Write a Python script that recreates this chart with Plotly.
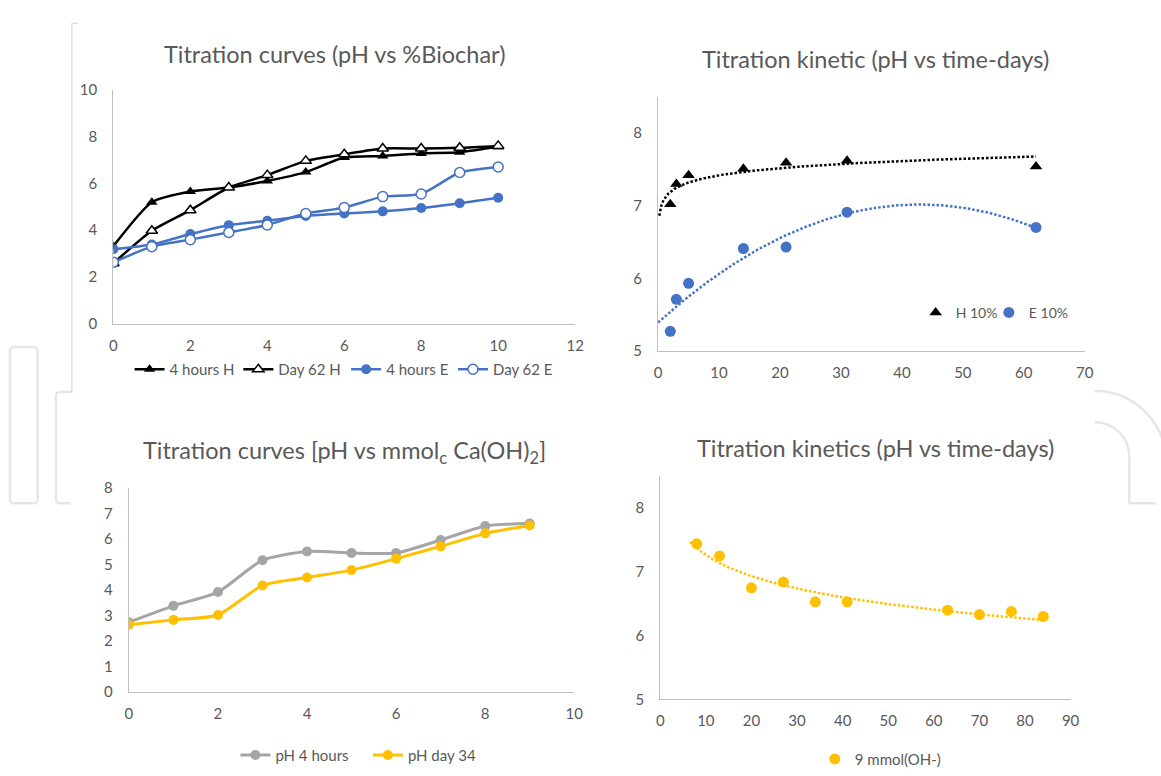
import numpy as np
import plotly.graph_objects as go

W, H = 1161, 776

# ---------------- data ----------------
# Top-left: Titration curves (pH vs %Biochar)
biochar_pct = [0, 1, 2, 3, 4, 5, 6, 7, 8, 9, 10]
ph_4h_H = [3.31, 5.19, 5.65, 5.82, 6.10, 6.48, 7.10, 7.17, 7.28, 7.33, 7.56]
ph_d62_H = [2.58, 3.97, 4.85, 5.82, 6.35, 6.96, 7.24, 7.49, 7.49, 7.52, 7.60]
ph_4h_E = [3.18, 3.38, 3.83, 4.21, 4.40, 4.60, 4.71, 4.80, 4.94, 5.15, 5.38]
ph_d62_E = [2.62, 3.29, 3.59, 3.90, 4.22, 4.71, 4.96, 5.43, 5.54, 6.46, 6.70]

# Top-right: Titration kinetic (pH vs time-days)
kin_days = [2, 3, 5, 14, 21, 31, 62]
ph_H10 = [7.02, 7.30, 7.42, 7.51, 7.59, 7.62, 7.54]
ph_E10 = [5.27, 5.71, 5.93, 6.41, 6.43, 6.91, 6.70]

# Bottom-left: Titration curves [pH vs mmolc Ca(OH)2]
mmol_c = [0, 1, 2, 3, 4, 5, 6, 7, 8, 9]
ph_4hours = [2.74, 3.38, 3.92, 5.17, 5.51, 5.45, 5.45, 5.96, 6.51, 6.61]
ph_day34 = [2.64, 2.83, 3.02, 4.18, 4.49, 4.78, 5.23, 5.71, 6.22, 6.53]

# Bottom-right: Titration kinetics (pH vs time-days)
kin2_days = [8, 13, 20, 27, 34, 41, 63, 70, 77, 84]
ph_9mmol = [7.44, 7.25, 6.75, 6.84, 6.53, 6.53, 6.40, 6.33, 6.38, 6.30]

# ---------------- style ----------------
FONT = "Lato"
TXT = "#595959"
AX = "#bfbfbf"
BLACK = "#000000"
BLUE = "#4472C4"
GREY = "#A5A5A5"
YELLOW = "#FFC000"
DOTS = "2.5px,2px"


def px_x(p):
    return p / W


def px_y(p):
    return 1 - p / H


fig = go.Figure()

# ---- Top-left traces ----
fig.add_trace(go.Scatter(x=biochar_pct, y=ph_4h_H, name="4 hours H", mode="lines+markers",
                         line=dict(color=BLACK, width=2.5, shape="spline", smoothing=0.6),
                         marker=dict(symbol="triangle-up", size=10, color=BLACK),
                         xaxis="x", yaxis="y", legend="legend"))
fig.add_trace(go.Scatter(x=biochar_pct, y=ph_d62_H, name="Day 62 H", mode="lines+markers",
                         line=dict(color=BLACK, width=2.5, shape="spline", smoothing=0.6),
                         marker=dict(symbol="triangle-up", size=10, color="white",
                                     line=dict(color=BLACK, width=1.5)),
                         xaxis="x", yaxis="y", legend="legend5"))
fig.add_trace(go.Scatter(x=biochar_pct, y=ph_4h_E, name="4 hours E", mode="lines+markers",
                         line=dict(color=BLUE, width=2.5, shape="spline", smoothing=0.6),
                         marker=dict(symbol="circle", size=10, color=BLUE),
                         xaxis="x", yaxis="y", legend="legend6"))
fig.add_trace(go.Scatter(x=biochar_pct, y=ph_d62_E, name="Day 62 E", mode="lines+markers",
                         line=dict(color=BLUE, width=2.5, shape="spline", smoothing=0.6),
                         marker=dict(symbol="circle", size=10, color="white",
                                     line=dict(color=BLUE, width=1.5)),
                         xaxis="x", yaxis="y", legend="legend7"))

# ---- Top-right traces with trendlines ----
kd = np.array(kin_days, dtype=float)
a_h, b_h = np.polyfit(np.log(kd), np.array(ph_H10), 1)
xt_h = np.linspace(0.2, kd.max(), 200)
fig.add_trace(go.Scatter(x=xt_h, y=a_h * np.log(xt_h) + b_h, mode="lines", showlegend=False,
                         line=dict(color=BLACK, width=2.5, dash=DOTS), hoverinfo="skip",
                         xaxis="x2", yaxis="y2"))
pe = np.polyfit(kd, np.array(ph_E10), 2)
xt_e = np.linspace(0, kd.max(), 200)
fig.add_trace(go.Scatter(x=xt_e, y=np.polyval(pe, xt_e), mode="lines", showlegend=False,
                         line=dict(color=BLUE, width=2.5, dash=DOTS), hoverinfo="skip",
                         xaxis="x2", yaxis="y2"))
fig.add_trace(go.Scatter(x=kin_days, y=ph_H10, name="H 10%", mode="markers",
                         marker=dict(symbol="triangle-up", size=11, color=BLACK),
                         xaxis="x2", yaxis="y2", legend="legend2"))
fig.add_trace(go.Scatter(x=kin_days, y=ph_E10, name="E 10%", mode="markers",
                         marker=dict(symbol="circle", size=11, color=BLUE),
                         xaxis="x2", yaxis="y2", legend="legend8"))

# ---- Bottom-left traces ----
fig.add_trace(go.Scatter(x=mmol_c, y=ph_4hours, name="pH 4 hours", mode="lines+markers",
                         line=dict(color=GREY, width=3, shape="spline", smoothing=0.6),
                         marker=dict(symbol="circle", size=10, color=GREY),
                         xaxis="x3", yaxis="y3", legend="legend3"))
fig.add_trace(go.Scatter(x=mmol_c, y=ph_day34, name="pH day 34", mode="lines+markers",
                         line=dict(color=YELLOW, width=3, shape="spline", smoothing=0.6),
                         marker=dict(symbol="circle", size=10, color=YELLOW),
                         xaxis="x3", yaxis="y3", legend="legend9"))

# ---- Bottom-right traces ----
k2 = np.array(kin2_days, dtype=float)
a2, b2 = np.polyfit(np.log(k2), np.array(ph_9mmol), 1)
xt2 = np.linspace(k2.min() - 1.5, k2.max(), 200)
fig.add_trace(go.Scatter(x=xt2, y=a2 * np.log(xt2) + b2, mode="lines", showlegend=False,
                         line=dict(color=YELLOW, width=2.5, dash=DOTS), hoverinfo="skip",
                         xaxis="x4", yaxis="y4"))
fig.add_trace(go.Scatter(x=kin2_days, y=ph_9mmol, name="9 mmol(OH-)", mode="markers",
                         marker=dict(symbol="circle", size=11, color=YELLOW),
                         xaxis="x4", yaxis="y4", legend="legend4"))

# ---------------- axes ----------------
tickfont = dict(family=FONT, size=15, color=TXT)


def xax(domain, rng, dtick, anchor):
    return dict(domain=domain, range=rng, dtick=dtick, tick0=0, anchor=anchor,
                showline=True, linecolor=AX, linewidth=1.3, showgrid=False, zeroline=False,
                ticks="outside", ticklen=8, tickcolor="rgba(0,0,0,0)", tickfont=tickfont,
                fixedrange=True)


def yax(domain, rng, tickvals, anchor):
    return dict(domain=domain, range=rng, tickvals=tickvals, anchor=anchor,
                showline=True, linecolor=AX, linewidth=1.3, showgrid=False, zeroline=False,
                ticks="outside", ticklen=12, tickcolor="rgba(0,0,0,0)", tickfont=tickfont,
                fixedrange=True)


fig.update_layout(
    xaxis=xax([px_x(110.6), px_x(577.6)], [0, 12], 2, "y"),
    yaxis=yax([px_y(321), px_y(81.7)], [0, 10], [0, 2, 4, 6, 8, 10], "x"),
    xaxis2=xax([px_x(661.5), px_x(1093)], [0, 70], 10, "y2"),
    yaxis2=yax([px_y(349), px_y(88.8)], [5, 8.5], [5, 6, 7, 8], "x2"),
    xaxis3=xax([px_x(126.3), px_x(576.7)], [0, 10], 2, "y3"),
    yaxis3=yax([px_y(698.3), px_y(489.3)], [0, 8], [0, 1, 2, 3, 4, 5, 6, 7, 8], "x3"),
    xaxis4=xax([px_x(663.7), px_x(1078.7)], [0, 90], 10, "y4"),
    yaxis4=yax([px_y(705.7), px_y(477.4)], [5, 8.5], [5, 6, 7, 8], "x4"),
)


# ---------------- legends (one per item, positioned by legend left edge) ----------------
def leg(left_x, yc, size=15):
    return dict(x=px_x(left_x), y=px_y(yc), xanchor="left", yanchor="middle",
                orientation="h", bgcolor="rgba(0,0,0,0)", borderwidth=0,
                font=dict(family=FONT, size=size, color=TXT), itemwidth=30)


fig.update_layout(
    legend=leg(127, 368),
    legend5=leg(237, 368),
    legend6=leg(346, 368),
    legend7=leg(454, 368),
    legend2=leg(922, 310, 14),
    legend8=leg(996, 310, 14),
    legend3=leg(234, 763),
    legend9=leg(368, 763),
    legend4=leg(820, 767),
)

# ---------------- titles ----------------
titles = [
    ("Titration curves (pH vs %Biochar)", 333.8, 45),
    ("Titration kinetic (pH vs time-days)", 880.9, 50),
    ("Titration curves [pH vs mmol<sub>c</sub> Ca(OH)<sub>2</sub>]", 344.4, 452),
    ("Titration kinetics (pH vs time-days)", 880.9, 448.3),
]
for t, xc, yc in titles:
    fig.add_annotation(text=t, x=px_x(xc), y=px_y(yc), xref="paper", yref="paper",
                       xanchor="center", yanchor="middle", showarrow=False,
                       font=dict(family=FONT, size=23.5, color=TXT))

# ---------------- watermark / border shapes ----------------
WM = "#e6e6e6"
shapes = []


def seg(x0, y0, x1, y1, color=WM, width=2.5):
    shapes.append(dict(type="line", xref="paper", yref="paper",
                       x0=px_x(x0), y0=px_y(y0), x1=px_x(x1), y1=px_y(y1),
                       line=dict(color=color, width=width)))


def arc(x0, y0, c1x, c1y, c2x, c2y, x1, y1, color=WM, width=2.5):
    p = "M{:.5f},{:.5f} C{:.5f},{:.5f} {:.5f},{:.5f} {:.5f},{:.5f}".format(
        px_x(x0), px_y(y0), px_x(c1x), px_y(c1y), px_x(c2x), px_y(c2y), px_x(x1), px_y(y1))
    shapes.append(dict(type="path", xref="paper", yref="paper", path=p,
                       line=dict(color=color, width=width)))


# "I" outline (rounded rectangle)
seg(10, 345, 30, 345)
seg(34, 349, 34, 501)
seg(30, 505, 10, 505)
seg(6, 501, 6, 349)
arc(30, 345, 32.2, 345, 34, 346.8, 34, 349)
arc(34, 501, 34, 503.2, 32.2, 505, 30, 505)
arc(10, 505, 7.8, 505, 6, 503.2, 6, 501)
arc(6, 349, 6, 346.8, 7.8, 345, 10, 345)
# "n" left stem (visible part)
seg(68, 391, 56.5, 391)
arc(56.5, 391, 54.3, 391, 52.5, 392.8, 52.5, 395)
seg(52.5, 395, 52.5, 501)
arc(52.5, 501, 52.5, 503.2, 54.3, 505, 56.5, 505)
seg(56.5, 505, 68, 505)
# "n" right side arcs
k = 0.5523
R1 = 72
arc(1103, 390, 1103 + k * R1, 390, 1103 + R1, 462 - k * R1, 1103 + R1, 462)
R2 = 35
arc(1103, 422, 1103 + k * R2, 422, 1138, 457 - k * R2, 1138, 457)
seg(1138, 457, 1138, 505)
seg(1138, 505, 1165, 505)
# faint border of the top-left chart
seg(75, 13.5, 68.6, 13.5, "#d9d9d9", 1.2)
seg(68.6, 13.5, 68.6, 392, "#d9d9d9", 1.2)
fig.update_layout(shapes=shapes)

fig.update_layout(
    width=W, height=H, margin=dict(l=0, r=0, t=0, b=0),
    paper_bgcolor="white", plot_bgcolor="white",
    font=dict(family=FONT, color=TXT),
    hovermode=False,
)

fig.write_html("out.html", config={"displayModeBar": False},
               post_script="document.body.style.margin='0';document.body.style.overflow='hidden';")
